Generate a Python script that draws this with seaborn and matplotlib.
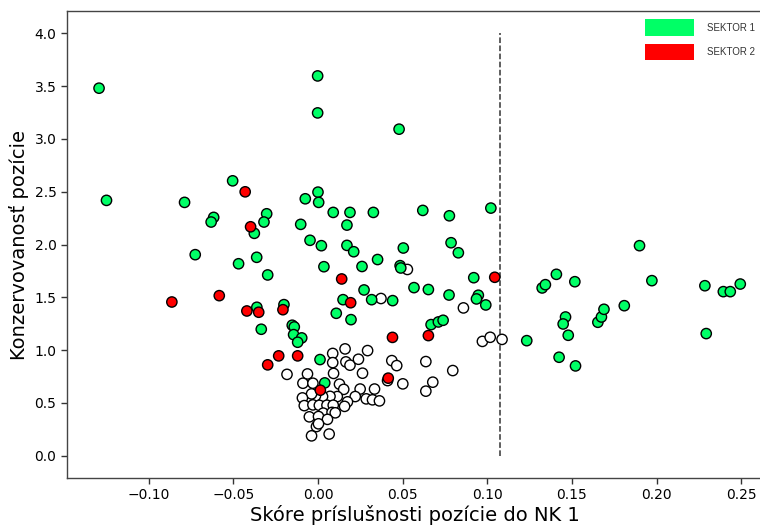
import matplotlib
matplotlib.use("Agg")
import matplotlib.pyplot as plt
from matplotlib.patches import Patch
import numpy as np
import pandas as pd
import seaborn as sns

# Positions outside any sector (white markers)
other_x = [-0.0183, -0.0062, -0.0089, -0.0030, 0.0092, 0.0087, 0.0087, 0.0160, 0.0165, 0.0189,
           0.0239, 0.0293, 0.0263, 0.0436, 0.0465, 0.0411, 0.0501, 0.0637, 0.0796, 0.0678,
           0.0637, 0.0334, 0.0249, 0.0220, 0.0285, 0.0322, 0.0363, 0.0174, 0.0157, 0.0127,
           0.0152, 0.0114, 0.0071, 0.0027, -0.0015, -0.0038, -0.0092, -0.0081, -0.0030, 0.0008,
           0.0053, 0.0090, 0.0031, 0.0083, 0.0102, -0.0051, 0.0003, 0.0056, -0.0009, 0.0003,
           -0.0038, 0.0066, 0.0528, 0.0372, 0.0859, 0.0971, 0.1017, 0.1087]
other_y = [0.771, 0.775, 0.687, 0.687, 0.780, 0.969, 0.882, 1.012, 0.889, 0.858,
           0.914, 0.996, 0.782, 0.901, 0.854, 0.712, 0.681, 0.892, 0.807, 0.697,
           0.612, 0.632, 0.632, 0.561, 0.539, 0.530, 0.520, 0.511, 0.468, 0.678,
           0.629, 0.561, 0.563, 0.561, 0.567, 0.586, 0.548, 0.475, 0.482, 0.478,
           0.479, 0.479, 0.404, 0.411, 0.407, 0.369, 0.372, 0.345, 0.277, 0.303,
           0.189, 0.206, 1.764, 1.489, 1.400, 1.083, 1.122, 1.102]

# SEKTOR 1 positions
s1_x = [-0.1293, -0.1249, -0.0788, -0.0504, -0.0616, -0.0631, -0.0303, -0.0319, -0.0376, -0.0075,
        -0.0102, -0.0047, -0.0725, -0.0469, -0.0362, -0.0297, -0.0361, -0.0201, -0.0152, -0.0140,
        -0.0144, -0.0096, -0.0120, -0.0335, -0.0002, -0.0002, 0.0479, 0.0000, 0.0004, 0.0090,
        0.0189, 0.0327, 0.0619, 0.0776, 0.1021, 0.0171, 0.0020, 0.0171, 0.0211, 0.0352,
        0.0504, 0.0786, 0.0829, 0.1899, 0.0035, 0.0260, 0.0485, 0.0489, 0.0920, 0.0272,
        0.0567, 0.0652, 0.0148, 0.0317, 0.0441, 0.0774, 0.0947, 0.0936, 0.0991, 0.0108,
        0.0195, 0.0668, 0.0711, 0.0739, 0.0012, 0.0040, 0.1233, 0.1324, 0.1343, 0.1408,
        0.1517, 0.1462, 0.1448, 0.1478, 0.1424, 0.1521, 0.1653, 0.1674, 0.1689, 0.1809,
        0.1972, 0.2285, 0.2293, 0.2394, 0.2435, 0.2494]
s1_y = [3.480, 2.418, 2.399, 2.603, 2.257, 2.213, 2.291, 2.213, 2.106, 2.433,
        2.191, 2.040, 1.904, 1.818, 1.879, 1.712, 1.406, 1.431, 1.236, 1.220,
        1.147, 1.116, 1.075, 1.198, 3.596, 3.246, 3.092, 2.496, 2.399, 2.304,
        2.304, 2.304, 2.323, 2.272, 2.345, 2.184, 1.989, 1.992, 1.932, 1.858,
        1.967, 2.017, 1.922, 1.989, 1.790, 1.792, 1.800, 1.778, 1.686, 1.570,
        1.592, 1.574, 1.478, 1.478, 1.469, 1.522, 1.520, 1.485, 1.428, 1.349,
        1.289, 1.242, 1.267, 1.283, 0.911, 0.690, 1.090, 1.589, 1.620, 1.718,
        1.648, 1.314, 1.248, 1.141, 0.933, 0.851, 1.264, 1.314, 1.387, 1.421,
        1.658, 1.610, 1.157, 1.554, 1.554, 1.626]

# SEKTOR 2 positions
s2_x = [-0.0430, -0.0398, -0.0863, -0.0583, -0.0420, -0.0350, -0.0207, -0.0232, -0.0120, -0.0297,
        0.0140, 0.1044, 0.0193, 0.0440, 0.0652, 0.0415, 0.0014]
s2_y = [2.499, 2.168, 1.456, 1.516, 1.371, 1.359, 1.383, 0.946, 0.946, 0.861,
        1.674, 1.690, 1.449, 1.121, 1.138, 0.735, 0.621]

threshold = 0.1073
groups = ["INÉ", "SEKTOR 1", "SEKTOR 2"]
colors = {"INÉ": "#ffffff", "SEKTOR 1": "#00ff66", "SEKTOR 2": "#ff0000"}

df = pd.DataFrame({
    "x": other_x + s1_x + s2_x,
    "y": other_y + s1_y + s2_y,
    "skupina": [groups[0]] * len(other_x) + [groups[1]] * len(s1_x) + [groups[2]] * len(s2_x),
})

sns.set_style("ticks")
plt.rcParams["font.family"] = ["DejaVu Sans"]
plt.rcParams["text.color"] = "black"
plt.rcParams["axes.labelcolor"] = "black"
plt.rcParams["xtick.color"] = "black"
plt.rcParams["ytick.color"] = "black"

fig = plt.figure(figsize=(7.6, 5.27), dpi=100)
ax = fig.add_axes([0.088, 0.093, 0.915, 0.886])

sns.scatterplot(data=df, x="x", y="y", hue="skupina", palette=colors,
                hue_order=groups, s=55, edgecolor="black", linewidth=1.0,
                legend=False, ax=ax, zorder=3)

ax.vlines(threshold, 0.0, 4.0, colors="#333333", linestyles="--", linewidth=1.1, zorder=2)

ax.set_xlim(-0.1483, 0.2624)
ax.set_ylim(-0.21, 4.21)
xt = np.arange(-0.10, 0.2501, 0.05)
yt = np.arange(0.0, 4.01, 0.5)
ax.set_xticks(xt)
ax.set_yticks(yt)
ax.set_xticklabels([f"{v:.2f}".replace("-", "\u2212") for v in xt])
ax.set_yticklabels([f"{v:.1f}" for v in yt])
ax.tick_params(labelsize=10, length=4, width=1, color="#333333", labelcolor="black")
for sp in ax.spines.values():
    sp.set_color("#444444")
    sp.set_linewidth(1.0)

ax.set_xlabel("Skóre príslušnosti pozície do NK 1", fontsize=14, color="black", labelpad=2)
ax.set_ylabel("Konzervovanosť pozície", fontsize=14, color="black")

handles = [Patch(facecolor=colors["SEKTOR 1"], edgecolor="none", label="SEKTOR 1"),
           Patch(facecolor=colors["SEKTOR 2"], edgecolor="none", label="SEKTOR 2")]
leg = ax.legend(handles=handles, loc="upper right", bbox_to_anchor=(1.002, 1.0),
                frameon=False, handlelength=5.0, handleheight=2.3,
                labelspacing=0.75, handletextpad=1.4, borderaxespad=0.45,
                prop={"family": "Liberation Sans", "size": 7})
for t in leg.get_texts():
    t.set_color("#333333")

fig.savefig("out.png", dpi=100)
